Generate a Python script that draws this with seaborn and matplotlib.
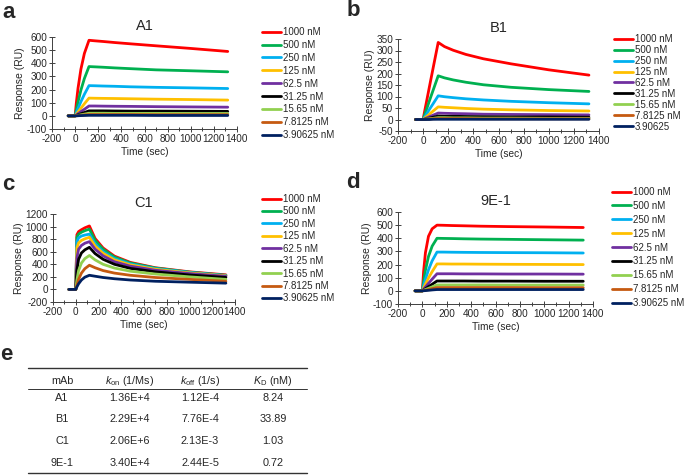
import matplotlib
matplotlib.use("Agg")
import matplotlib.pyplot as plt
from matplotlib.ticker import MultipleLocator
import seaborn as sns
import pandas as pd

# time points (sec)
time = [-60, 0, 10, 25, 50, 80, 120, 170, 240, 340, 480, 700, 1000, 1320]

concs = ['1000 nM', '500 nM', '250 nM', '125 nM', '62.5 nM', '31.25 nM',
         '15.65 nM', '7.8125 nM', '3.90625 nM']
colors = ['#FF0000', '#00B050', '#00B0F0', '#FFC000', '#7030A0', '#000000',
          '#92D050', '#C55A11', '#002060']

# response (RU), one row per concentration
a1_resp = [
    [0, 0, 95, 210, 355, 475, 575, 571, 566, 558, 548, 533, 513, 490],
    [0, 0, 45, 106, 196, 284, 375, 373, 370, 365, 359, 350, 343, 335],
    [0, 0, 23, 56, 108, 164, 230, 229, 227, 225, 221, 217, 213, 208],
    [0, 0, 12, 29, 58, 92, 135, 134, 133, 132, 130, 127, 124, 120],
    [0, 0, 6, 16, 32, 50, 75, 75, 74, 73, 72, 70, 68, 66],
    [0, 0, 3, 8, 16, 25, 38, 38, 38, 37, 36, 36, 35, 34],
    [0, 0, 2, 4, 8, 13, 20, 20, 20, 19, 19, 19, 18, 18],
    [0, 0, 1, 2, 4, 7, 10, 10, 10, 10, 10, 9, 9, 9],
    [0, 0, 0, 1, 2, 3, 4, 4, 4, 4, 4, 3, 3, 3],
]
b1_resp = [
    [0, 0, 30, 72, 142, 225, 335, 317, 301, 283, 264, 242, 216, 193],
    [0, 0, 17, 41, 81, 128, 190, 181, 172, 162, 151, 140, 130, 122],
    [0, 0, 9, 22, 44, 69, 103, 99, 95, 90, 85, 79, 73, 68],
    [0, 0, 5, 12, 23, 37, 55, 53, 51, 48, 45, 42, 39, 37],
    [0, 0, 2, 6, 12, 19, 28, 27, 26, 25, 23, 22, 21, 20],
    [0, 0, 1, 3, 6, 10, 15, 14, 14, 13, 12, 11, 11, 10],
    [0, 0, 1, 2, 3, 5, 8, 8, 7, 7, 6, 6, 5, 5],
    [0, 0, 0, 1, 2, 3, 4, 4, 4, 4, 3, 3, 3, 3],
    [0, 0, 0, 0, 0, 1, 1, 1, 1, 1, 1, 1, 1, 1],
]
c1_resp = [
    [0, 0, 870, 920, 950, 980, 1010, 810, 660, 530, 430, 345, 280, 232],
    [0, 0, 830, 880, 910, 935, 960, 780, 640, 515, 420, 340, 275, 225],
    [0, 0, 760, 820, 850, 865, 880, 725, 600, 490, 405, 330, 270, 220],
    [0, 0, 660, 740, 780, 805, 830, 690, 575, 470, 390, 320, 262, 215],
    [0, 0, 500, 640, 700, 735, 760, 640, 535, 440, 370, 305, 252, 208],
    [0, 0, 300, 480, 580, 630, 670, 570, 480, 400, 335, 280, 230, 190],
    [0, 0, 150, 300, 420, 490, 540, 470, 400, 340, 290, 245, 200, 160],
    [0, 0, 70, 160, 260, 330, 385, 345, 300, 260, 225, 190, 160, 130],
    [0, 0, 40, 90, 150, 195, 225, 210, 190, 170, 150, 130, 115, 100],
]
e91_resp = [
    [0, 0, 147, 290, 415, 472, 500, 499, 497, 495, 492, 489, 486, 482],
    [0, 0, 71, 157, 261, 340, 400, 399, 398, 396, 394, 392, 389, 386],
    [0, 0, 38, 88, 160, 228, 295, 295, 294, 293, 292, 291, 290, 288],
    [0, 0, 21, 51, 98, 146, 205, 205, 204, 204, 203, 202, 201, 200],
    [0, 0, 12, 29, 57, 89, 130, 130, 130, 129, 129, 128, 128, 127],
    [0, 0, 6, 16, 32, 50, 75, 75, 75, 75, 74, 74, 73, 73],
    [0, 0, 4, 10, 19, 30, 45, 45, 45, 45, 45, 44, 44, 44],
    [0, 0, 2, 5, 10, 17, 25, 25, 25, 25, 25, 25, 24, 24],
    [0, 0, 1, 2, 4, 7, 10, 10, 10, 10, 10, 10, 10, 10],
]

# kinetics table
mabs = ['A1', 'B1', 'C1', '9E-1']
kon = ['1.36E+4', '2.29E+4', '2.06E+6', '3.40E+4']
koff = ['1.12E-4', '7.76E-4', '2.13E-3', '2.44E-5']
kd = ['8.24', '33.89', '1.03', '0.72']

sns.set_style('ticks')
plt.rcParams['font.family'] = ['Liberation Sans', 'DejaVu Sans']
plt.rcParams['axes.unicode_minus'] = False
plt.rcParams['mathtext.fontset'] = 'custom'
plt.rcParams['mathtext.rm'] = 'Liberation Sans'
plt.rcParams['mathtext.it'] = 'Liberation Sans:italic'

W, H = 684, 475
fig = plt.figure(figsize=(W / 100, H / 100), dpi=100)


def px_axes(left, right, top, bottom):
    return fig.add_axes([left / W, 1 - bottom / H, (right - left) / W, (bottom - top) / H])


def panel(ax, resp, title, ylim, ystep, leg_xy, spacing, last_label=None):
    rows = []
    for lab, vals in zip(concs, resp):
        for t, v in zip(time, vals):
            rows.append({'time': t, 'resp': v, 'conc': lab})
    df = pd.DataFrame(rows)
    sns.lineplot(data=df, x='time', y='resp', hue='conc', hue_order=concs,
                 palette=colors, lw=2.0, ax=ax)
    ax.set_xlim(-200, 1400)
    ax.set_ylim(*ylim)
    ax.xaxis.set_major_locator(MultipleLocator(200))
    ax.xaxis.set_minor_locator(MultipleLocator(100))
    ax.yaxis.set_major_locator(MultipleLocator(ystep))
    ax.tick_params(which='major', direction='inout', length=4, width=0.7,
                   labelsize=7.2, pad=1.5, color='#404040')
    ax.tick_params(which='minor', direction='inout', length=3, width=0.7, color='#404040')
    for s in ['left', 'bottom']:
        ax.spines[s].set_linewidth(0.7)
        ax.spines[s].set_color('#404040')
    sns.despine(ax=ax)
    ax.set_title(title, fontsize=10.5, pad=5)
    ax.set_xlabel('Time (sec)', fontsize=7.3, labelpad=2)
    ax.set_ylabel('Response (RU)', fontsize=7.5, labelpad=1)
    sns.move_legend(ax, 'upper left', bbox_to_anchor=(leg_xy[0] / W, 1 - leg_xy[1] / H),
                    bbox_transform=fig.transFigure, title=None, frameon=False,
                    fontsize=7, handlelength=2.0, handletextpad=0.15,
                    labelspacing=spacing, borderpad=0, borderaxespad=0)
    if last_label:
        ax.get_legend().get_texts()[-1].set_text(last_label)


ax_a = px_axes(52, 237, 37, 129)
panel(ax_a, a1_resp, 'A1', (-100, 600), 100, (262, 27), 0.3)
ax_b = px_axes(398, 599, 39, 131)
panel(ax_b, b1_resp, 'B1', (-50, 350), 50, (614, 34), 0.1, last_label='3.90625')
ax_c = px_axes(53, 235, 214, 302)
panel(ax_c, c1_resp, 'C1', (-200, 1200), 200, (262, 194), 0.25)
ax_d = px_axes(398, 593, 212, 304)
panel(ax_d, e91_resp, '9E-1', (-100, 600), 100, (612, 187), 0.4)

# panel letters
for lab, x, y in [('a', 9, 13), ('b', 353, 10), ('c', 8, 184), ('d', 353, 182), ('e', 6, 355)]:
    fig.text(x / W, 1 - y / H, lab, fontsize=16, fontweight='bold', ha='center', va='center')

# table e
tab = fig.add_axes([0, 0, 1, 1])
tab.set_xlim(0, W)
tab.set_ylim(H, 0)
tab.axis('off')
tab.patch.set_alpha(0)
cols_x = [62, 130, 200, 273]
heads = ['mAb', r'$k_\mathrm{on}$ (1/Ms)', r'$k_\mathrm{off}$ (1/s)', r'$K_\mathrm{D}$ (nM)']
for x, h in zip(cols_x, heads):
    tab.text(x, 381, h, ha='center', va='center', fontsize=7.8)
row_y = [398, 419, 441, 463]
for y, m, a, b, c in zip(row_y, mabs, kon, koff, kd):
    for x, v in zip(cols_x, [m, a, b, c]):
        tab.text(x, y, v, ha='center', va='center', fontsize=7.8)
for y, lw in [(368, 1.0), (389, 0.7), (473, 1.0)]:
    tab.plot([28, 307], [y, y], color='#333333', lw=lw)

fig.savefig('out.png', dpi=100)
